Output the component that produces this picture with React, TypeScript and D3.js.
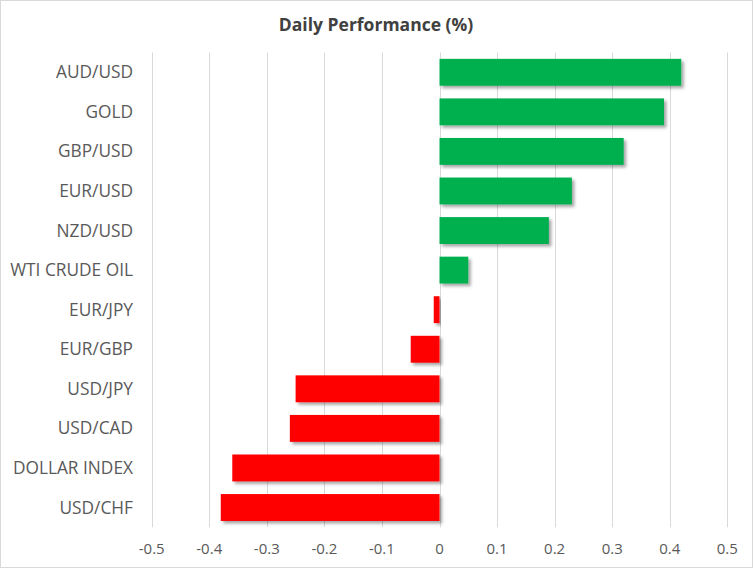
import React, { useRef, useEffect } from 'react';
import * as d3 from 'd3';

const categories = [
  'AUD/USD', 'GOLD', 'GBP/USD', 'EUR/USD', 'NZD/USD', 'WTI CRUDE OIL',
  'EUR/JPY', 'EUR/GBP', 'USD/JPY', 'USD/CAD', 'DOLLAR INDEX', 'USD/CHF',
];
const values = [0.42, 0.39, 0.32, 0.23, 0.19, 0.05, -0.01, -0.05, -0.25, -0.26, -0.36, -0.38];
const tickValues = [-0.5, -0.4, -0.3, -0.2, -0.1, 0, 0.1, 0.2, 0.3, 0.4, 0.5];

const W = 753;
const H = 568;
const FONT = "'Open Sans', 'Noto Sans', sans-serif";

const App: React.FC = () => {
  const svgRef = useRef<SVGSVGElement>(null);

  useEffect(() => {
    if (!svgRef.current) return;
    const svg = d3.select(svgRef.current);
    svg.selectAll('*').remove();

    const left = 151.7;
    const right = 727.3;
    const top = 52.5;
    const bottom = 527.3;

    // background + border
    svg.append('rect')
      .attr('x', 0.5).attr('y', 0.5)
      .attr('width', W - 1).attr('height', H - 1)
      .attr('fill', '#fff')
      .attr('stroke', '#d9d9d9');

    const defs = svg.append('defs');
    const f = defs.append('filter').attr('id', 'shadow')
      .attr('x', '-10%').attr('y', '-20%').attr('width', '130%').attr('height', '160%');
    f.append('feDropShadow')
      .attr('dx', 2.5).attr('dy', 2.5).attr('stdDeviation', 1.5)
      .attr('flood-color', '#000').attr('flood-opacity', 0.35);

    const x = d3.scaleLinear().domain([-0.5, 0.5]).range([left, right]);
    const y = d3.scaleBand<string>().domain(categories).range([top, bottom]).paddingInner(0.32).paddingOuter(0.16);

    // title
    svg.append('text')
      .attr('x', 376).attr('y', 31)
      .attr('text-anchor', 'middle')
      .style('font-family', FONT).style('font-size', '17.5px').style('font-weight', 'bold')
      .style('fill', '#404040')
      .text('Daily Performance (%)');

    // gridlines
    svg.append('g')
      .selectAll('line')
      .data(tickValues)
      .join('line')
      .attr('x1', d => Math.round(x(d)) + 0.5).attr('x2', d => Math.round(x(d)) + 0.5)
      .attr('y1', top).attr('y2', bottom)
      .attr('stroke', '#d9d9d9').attr('stroke-width', 1);

    // bars
    svg.append('g')
      .selectAll('rect')
      .data(values)
      .join('rect')
      .attr('x', d => x(Math.min(0, d)))
      .attr('width', d => Math.abs(x(d) - x(0)))
      .attr('y', (_, i) => y(categories[i]) as number)
      .attr('height', y.bandwidth())
      .attr('fill', d => (d >= 0 ? '#00B050' : '#FF0000'))
      .attr('filter', 'url(#shadow)');

    // category labels
    svg.append('g')
      .selectAll('text')
      .data(categories)
      .join('text')
      .attr('x', 133)
      .attr('y', d => (y(d) as number) + y.bandwidth() / 2)
      .attr('dy', '0.35em')
      .attr('text-anchor', 'end')
      .style('font-family', FONT).style('font-size', '17.3px')
      .style('fill', '#595959')
      .text(d => d);

    // tick labels
    svg.append('g')
      .selectAll('text')
      .data(tickValues)
      .join('text')
      .attr('x', d => x(d))
      .attr('y', 554)
      .attr('text-anchor', 'middle')
      .style('font-family', FONT).style('font-size', '15px')
      .style('fill', '#595959')
      .text(d => (d === 0 ? '0' : d.toFixed(1)));
  }, []);

  return (
    <svg
      ref={svgRef}
      width={W}
      height={H}
      style={{ position: 'absolute', left: 0, top: 0, display: 'block' }}
    />
  );
};

export default App;
